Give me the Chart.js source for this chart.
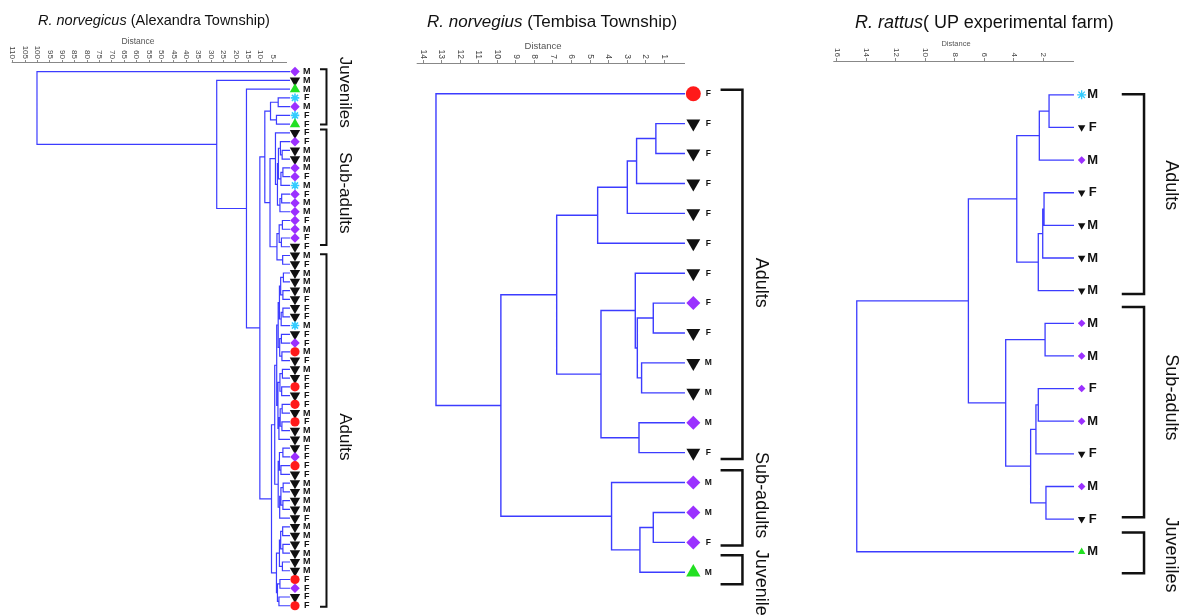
<!DOCTYPE html>
<html>
<head>
<meta charset="utf-8">
<script src="https://cdn.jsdelivr.net/npm/chart.js@4.4.1/dist/chart.umd.min.js"></script>
<style>
  body { margin: 0; background: #fff; width: 1179px; height: 615px; overflow: hidden; position: relative;
         font-family: "Liberation Sans", Arial, sans-serif; }
  canvas { position: absolute; top: 0; }
  .title { position: absolute; white-space: nowrap; color: #111; line-height: 1; }
  .dist { position: absolute; white-space: nowrap; color: #555; line-height: 1; transform: translate(-50%, -50%); }
</style>
</head>
<body>
<canvas id="alex" width="400" height="615" style="left:0"></canvas>
<canvas id="temb" width="400" height="615" style="left:400px"></canvas>
<canvas id="ratt" width="379" height="615" style="left:800px"></canvas>

<div class="title" style="left:38px;top:13px;font-size:14.5px"><i>R. norvegicus</i> (Alexandra Township)</div>
<div class="title" style="left:427px;top:13px;font-size:17px"><i>R. norvegius</i> (Tembisa Township)</div>
<div class="title" style="left:855px;top:13px;font-size:18px"><i>R. rattus</i>( UP experimental farm)</div>
<div class="dist" style="left:138px;top:41px;font-size:8.5px">Distance</div>
<div class="dist" style="left:543px;top:45.5px;font-size:9.5px">Distance</div>
<div class="dist" style="left:956px;top:44px;font-size:7.5px">Distance</div>

<script>
// symbols: D diamond, V down triangle, A up triangle, S asterisk, C circle
// merges: [a, b, distance]; a/b >= 0 is a leaf, -k is merge row k-1

// R. norvegicus, Alexandra Township
const alexTicks = [5, 10, 15, 20, 25, 30, 35, 40, 45, 50, 55, 60, 65, 70, 75, 80, 85, 90, 95, 100, 105, 110];
const alexSym = ['D','V','A','S','D','S','A','V','D','V',
                 'V','D','D','S','D','D','D','D','D','D',
                 'V','V','V','V','V','V','V','V','V','S',
                 'V','D','C','V','V','V','C','V','C','V',
                 'C','V','V','V','D','C','V','V','V','V',
                 'V','V','V','V','V','V','V','V','C','D',
                 'V','C'];
const alexSex = ['M','M','M','F','M','F','F','F','F','M',
                 'M','M','F','M','F','M','M','F','M','F',
                 'F','M','F','M','M','M','F','F','F','M',
                 'F','F','M','F','M','F','F','F','F','M',
                 'F','M','M','F','F','F','F','M','M','M',
                 'M','F','M','M','F','M','M','M','F','F',
                 'F','F'];
const alexMerges = [
  [3, 4, 2.9], [5, 6, 3.6], [-1, -2, 6.0],
  [9, 10, 1.3], [8, -4, 2.0], [11, 12, 1.0], [-6, 13, 1.8], [-5, -7, 2.8],
  [14, 15, 1.5], [-9, 16, 2.2], [-8, -10, 3.2], [7, -11, 4.0],
  [17, 18, 1.2], [19, 20, 1.6], [-13, -14, 2.5], [21, 22, 1.1], [-15, -16, 3.4],
  [-12, -17, 6.2], [-3, -18, 8.3],
  [23, 24, 0.8], [25, 26, 1.0], [-20, -21, 1.9], [27, 28, 1.0], [-23, 29, 1.7],
  [-22, -24, 2.4], [30, 31, 1.6], [32, 33, 1.4], [-26, -27, 2.3], [-25, -28, 2.9],
  [34, 35, 1.2], [36, 37, 1.5], [-30, -31, 2.2], [38, 39, 1.3], [40, 41, 1.4],
  [-33, -34, 2.1], [-35, 42, 2.6], [-32, -36, 3.0], [-29, -37, 3.5],
  [43, 44, 1.0], [45, 46, 1.8], [-39, -40, 2.4], [47, 48, 0.9], [49, 50, 1.0],
  [-42, -43, 1.8], [-44, 51, 2.3], [-41, -45, 2.9], [-38, -46, 4.3],
  [52, 53, 1.1], [54, 55, 1.0], [-48, -49, 1.9], [56, 57, 1.2], [-50, -51, 2.4],
  [58, 59, 2.2], [60, 61, 2.6], [-53, -54, 3.2], [-52, -55, 3.6], [-47, -56, 5.6],
  [-19, -57, 10.3], [2, -58, 15.7], [1, -59, 27.7], [0, -60, 100.2]
];
const alexGroups = ['Juveniles', 'Sub-adults', 'Adults'];
const alexGroupFrom = [-0.27, 6.6, 20.86];
const alexGroupTo = [6.03, 19.8, 61.1];
const alexGroupMid = [2.35, 13.84, 41.7];

// R. norvegius, Tembisa Township
const tembTicks = [1, 2, 3, 4, 5, 6, 7, 8, 9, 10, 11, 12, 13, 14];
const tembSym = ['C','V','V','V','V','V','V','D','V','V','V','D','V','D','D','D','A'];
const tembSex = ['F','F','F','F','F','F','F','F','F','M','M','M','F','M','M','F','M'];
const tembMerges = [
  [1, 2, 1.45], [-1, 3, 2.49], [-2, 4, 2.99], [-3, 5, 4.59],
  [7, 8, 1.59], [9, 10, 2.22], [-5, -6, 2.45], [6, -7, 2.56],
  [11, 12, 2.36], [-8, -9, 4.41], [-4, -10, 6.8],
  [14, 15, 1.59], [-12, 16, 2.31], [13, -13, 3.84],
  [-11, -14, 9.81], [0, -15, 13.31]
];
const tembGroups = ['Adults', 'Sub-adults', 'Juveniles'];
const tembGroupFrom = [-0.13, 12.59, 15.43];
const tembGroupTo = [12.21, 15.1, 16.4];
const tembGroupMid = [6.32, 13.42, 16.5];

// R. rattus, UP experimental farm
const rattTicks = [2, 4, 6, 8, 10, 12, 14, 16];
const rattSym = ['S','V','D','V','V','V','V','D','D','D','D','V','D','V','A'];
const rattSex = ['M','F','M','F','M','M','M','M','M','F','M','F','M','F','M'];
const rattMerges = [
  [0, 1, 1.61], [-1, 2, 2.27], [3, 4, 1.95], [-3, 5, 2.04], [-4, 6, 2.34],
  [-2, -5, 3.8], [7, 8, 1.88], [9, 10, 2.34], [-8, 11, 2.5], [12, 13, 1.82],
  [-9, -10, 2.86], [-7, -11, 4.55], [-6, -12, 7.08], [-13, 14, 14.65]
];
const rattGroups = ['Adults', 'Sub-adults', 'Juveniles'];
const rattGroupFrom = [-0.02, 6.5, 13.41];
const rattGroupTo = [6.1, 12.94, 14.66];
const rattGroupMid = [2.77, 9.27, 14.1];

const SYMBOL = {
  D: { style: 'rectRot', color: '#9b30ff', rot: 0 },
  V: { style: 'triangle', color: '#111111', rot: 180 },
  A: { style: 'triangle', color: '#22e022', rot: 0 },
  S: { style: 'star', color: '#33ccff', rot: 0 },
  C: { style: 'circle', color: '#ff1a1a', rot: 0 }
};

function segments(merges, n, leafX) {
  const pos = [];
  for (let i = 0; i < n; i++) pos.push({ x: leafX, y: i });
  const ref = v => (v < 0 ? pos[n - v - 1] : pos[v]);
  const pts = [];
  merges.forEach(([a, b, h]) => {
    const A = ref(a), B = ref(b);
    pts.push({ x: A.x, y: A.y }, { x: h, y: A.y }, { x: h, y: B.y }, { x: B.x, y: B.y }, { x: null, y: null });
    pos.push({ x: h, y: (A.y + B.y) / 2 });
  });
  return pts;
}

const dendroText = {
  id: 'dendroText',
  afterDraw(chart, args, o) {
    const { ctx } = chart;
    const x = chart.scales.x, y = chart.scales.y;
    ctx.save();
    // axis line, only over the distance range
    ctx.strokeStyle = '#888';
    ctx.lineWidth = 1;
    ctx.beginPath();
    ctx.moveTo(x.getPixelForValue(x.max), x.bottom - 0.5);
    ctx.lineTo(x.getPixelForValue(o.axisEnd), x.bottom - 0.5);
    ctx.stroke();
    // rotated distance tick labels, ending at the tick marks
    ctx.fillStyle = '#444';
    ctx.font = o.tickFont;
    x.ticks.forEach(t => {
      ctx.save();
      ctx.translate(x.getPixelForValue(t.value), x.bottom - o.tickLen - 1);
      ctx.rotate(Math.PI / 2);
      ctx.textAlign = 'right';
      ctx.textBaseline = 'middle';
      ctx.fillText(String(t.value), 0, 0);
      ctx.restore();
    });
    // sex labels
    ctx.fillStyle = '#111';
    ctx.font = o.sexFont;
    ctx.textAlign = 'center';
    ctx.textBaseline = 'middle';
    o.sex.forEach((s, i) => ctx.fillText(s, x.getPixelForValue(o.sexX), y.getPixelForValue(i)));
    // group brackets and labels
    ctx.strokeStyle = '#111';
    ctx.lineWidth = o.bracketW;
    o.groups.forEach((g, k) => {
      const x0 = x.getPixelForValue(o.bracketX0), x1 = x.getPixelForValue(o.bracketX1);
      const y0 = y.getPixelForValue(o.from[k]), y1 = y.getPixelForValue(o.to[k]);
      ctx.beginPath();
      ctx.moveTo(x0, y0); ctx.lineTo(x1, y0); ctx.lineTo(x1, y1); ctx.lineTo(x0, y1);
      ctx.stroke();
      ctx.save();
      ctx.translate(x.getPixelForValue(o.labelX), y.getPixelForValue(o.mid[k]));
      ctx.rotate(Math.PI / 2);
      ctx.font = o.groupFont;
      ctx.fillText(g, 0, 0);
      ctx.restore();
    });
    ctx.restore();
  }
};

function drawPanel(id, d, s) {
  const n = d.sym.length;
  new Chart(document.getElementById(id), {
    type: 'scatter',
    data: {
      datasets: [
        {
          data: segments(d.merges, n, s.leafX),
          showLine: true, spanGaps: false, clip: false,
          borderColor: '#3c3cff', borderWidth: s.lineW, pointRadius: 0
        },
        {
          data: d.sym.map((k, i) => ({ x: s.markX, y: i })),
          clip: false,
          pointStyle: d.sym.map(k => SYMBOL[k].style),
          pointRotation: d.sym.map(k => SYMBOL[k].rot),
          pointRadius: d.sym.map(k => s.radius[k]),
          pointBackgroundColor: d.sym.map(k => SYMBOL[k].color),
          pointBorderColor: d.sym.map(k => SYMBOL[k].color),
          pointBorderWidth: d.sym.map(k => (k === 'S' ? s.starW : 0))
        }
      ]
    },
    options: {
      responsive: false,
      animation: false,
      events: [],
      layout: { padding: s.pad },
      plugins: {
        legend: { display: false },
        tooltip: { enabled: false },
        dendroText: {
          axisEnd: s.axisEnd,
          tickFont: s.tickFont, tickLen: s.tickLen, sex: d.sex, sexX: s.sexX, sexFont: s.sexFont,
          groups: d.groups, from: d.from, to: d.to, mid: d.mid,
          bracketX0: s.bracketX0, bracketX1: s.bracketX1, bracketW: s.bracketW,
          labelX: s.labelX, groupFont: s.groupFont
        }
      },
      scales: {
        x: {
          type: 'linear', position: 'top', reverse: true, min: s.xMin, max: s.xMax,
          afterBuildTicks: sc => { sc.ticks = d.ticks.map(v => ({ value: v })); },
          afterFit: sc => { sc.height = s.tickLen; },
          ticks: { display: false },
          grid: { drawOnChartArea: false, drawTicks: true, tickLength: s.tickLen, color: '#888' },
          border: { display: false }
        },
        y: { type: 'linear', display: false, reverse: true, min: s.yMin, max: s.yMax }
      }
    },
    plugins: [dendroText]
  });
}

drawPanel('alex',
  { ticks: alexTicks, sym: alexSym, sex: alexSex, merges: alexMerges,
    groups: alexGroups, from: alexGroupFrom, to: alexGroupTo, mid: alexGroupMid },
  { pad: { top: 60, left: 11.7, right: 98.5, bottom: 1 }, tickLen: 3,
    xMin: -6.5, xMax: 110.4, axisEnd: -0.65, yMin: -0.985, yMax: 61.37,
    leafX: -1.86, markX: -3.87, sexX: -8.59, bracketX0: -13.96, bracketX1: -16.58, labelX: -24.0,
    lineW: 1.2, starW: 1.6, bracketW: 2,
    radius: { D: 4.8, V: 6, A: 6, S: 4.3, C: 4.6 },
    tickFont: '8px "Liberation Sans"', sexFont: 'bold 9px "Liberation Sans"', groupFont: '17px "Liberation Sans"' });

drawPanel('temb',
  { ticks: tembTicks, sym: tembSym, sex: tembSex, merges: tembMerges,
    groups: tembGroups, from: tembGroupFrom, to: tembGroupTo, mid: tembGroupMid },
  { pad: { top: 60, left: 16.7, right: 95, bottom: 3 }, tickLen: 4,
    xMin: -1.2, xMax: 14.35, axisEnd: -0.12, yMin: -0.993, yMax: 17.15,
    leafX: -0.12, markX: -0.57, sexX: -1.375, bracketX0: -2.04, bracketX1: -3.22, labelX: -4.21,
    lineW: 1.4, starW: 2, bracketW: 2.5,
    radius: { D: 7, V: 8, A: 8.3, S: 7, C: 7.5 },
    tickFont: '8.5px "Liberation Sans"', sexFont: 'bold 8.5px "Liberation Sans"', groupFont: '18px "Liberation Sans"' });

drawPanel('ratt',
  { ticks: rattTicks, sym: rattSym, sex: rattSex, merges: rattMerges,
    groups: rattGroups, from: rattGroupFrom, to: rattGroupTo, mid: rattGroupMid },
  { pad: { top: 58, left: 33.3, right: 91.45, bottom: 3 }, tickLen: 4,
    xMin: -1.0, xMax: 16.24, axisEnd: -0.08, yMin: -1.006, yMax: 15.76,
    leafX: -0.08, markX: -0.6, sexX: -1.35, bracketX0: -3.32, bracketX1: -4.83, labelX: -6.64,
    lineW: 1.3, starW: 1.3, bracketW: 2.5,
    radius: { D: 3.8, V: 4.3, A: 4.3, S: 4.5, C: 4 },
    tickFont: '8px "Liberation Sans"', sexFont: 'bold 13px "Liberation Sans"', groupFont: '18px "Liberation Sans"' });
</script>
</body>
</html>
